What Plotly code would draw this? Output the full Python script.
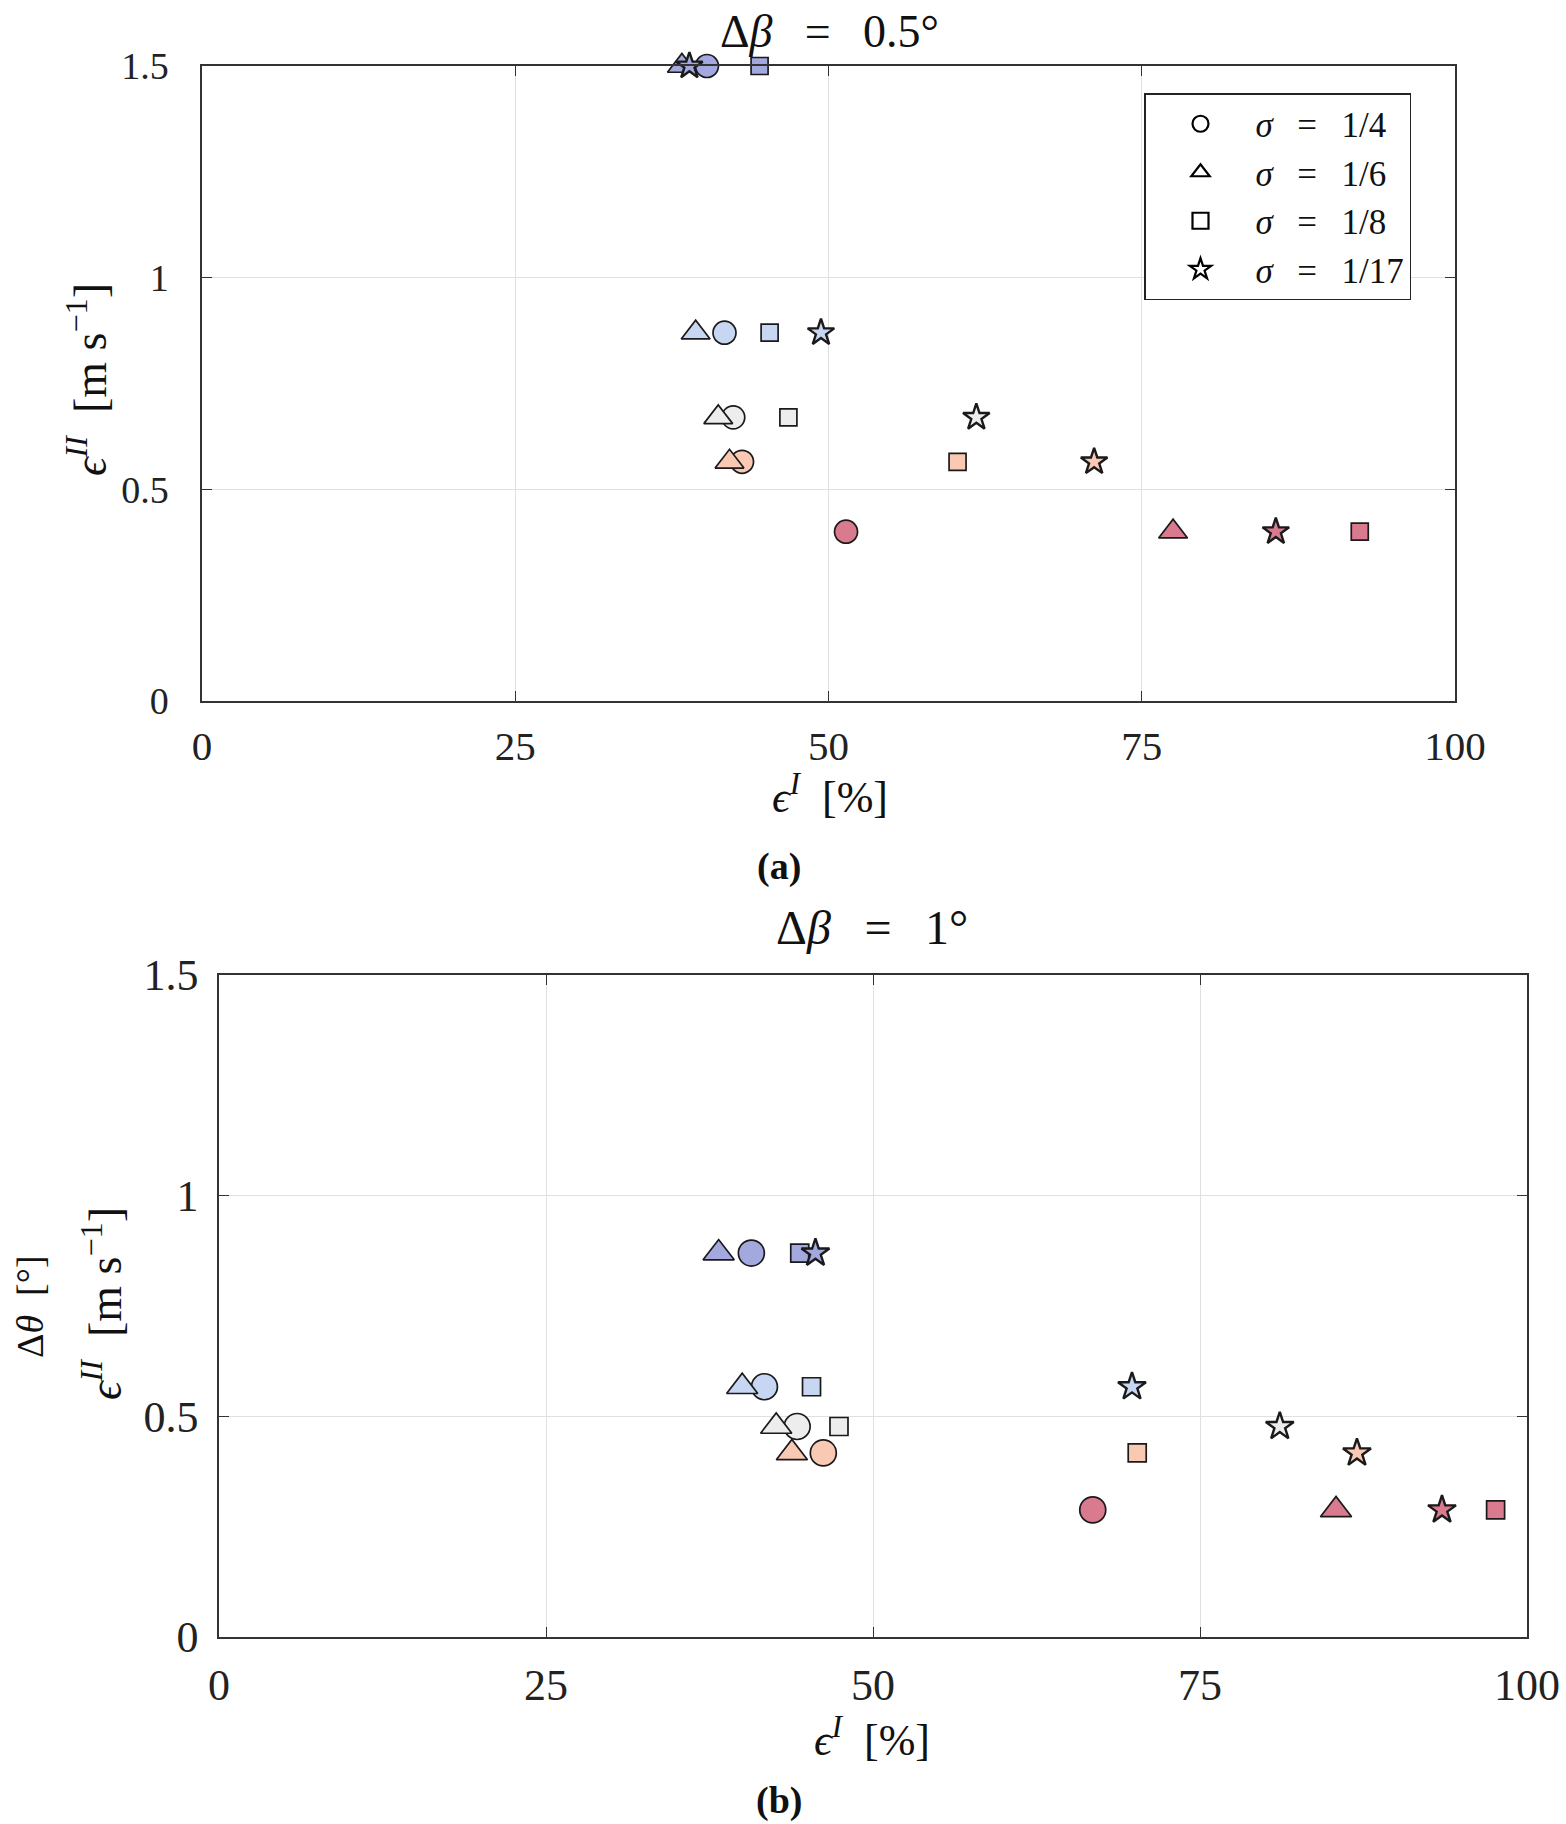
import plotly.graph_objects as go

# ---------------- data ----------------
sigma_labels = ["1/4", "1/6", "1/8", "1/17"]
sigma_symbols = ["circle", "triangle-up", "square", "star"]

# colours of the five levels (dark blue -> red)
level_colors = ["#a3a8de", "#c7d6f2", "#ededed", "#f9c9b4", "#d97a8e"]

# panel (a): delta beta = 0.5 deg
a_y = [1.5, 0.87, 0.67, 0.565, 0.40]
a_x_s4 = [40.3, 41.7, 42.4, 43.1, 51.4]
a_x_s6 = [38.3, 39.4, 41.2, 42.1, 77.5]
a_x_s8 = [44.5, 45.3, 46.8, 60.3, 92.4]
a_x_s17 = [38.9, 49.4, 61.8, 71.2, 85.7]

# panel (b): delta beta = 1 deg
b_y = [0.87, 0.567, 0.477, 0.417, 0.288]
b_x_s4 = [40.7, 41.7, 44.2, 46.2, 66.8]
b_x_s6 = [38.2, 40.0, 42.6, 43.8, 85.4]
b_x_s8 = [44.4, 45.3, 47.4, 70.2, 97.6]
b_x_s17 = [45.6, 69.8, 81.1, 87.0, 93.5]

x_ticks = [0, 25, 50, 75, 100]
y_ticks = [0, 0.5, 1, 1.5]
y_ticktext = ["0", "0.5", "1", "1.5"]

# ---------------- layout helpers ----------------
W, H = 1566, 1824
FONT = "Liberation Serif"
SP = "\u2002"
WSP = "\u2002\u2009"

def px(x):
    return x / W

def py(y):
    return 1 - y / H

fig = go.Figure()

a_sets = [a_x_s4, a_x_s6, a_x_s8, a_x_s17]
b_sets = [b_x_s4, b_x_s6, b_x_s8, b_x_s17]
sizes_a = [23, 25, 17, 20]
sizes_b = [26, 27, 18, 21]

for xs, sym, sz in zip(a_sets, sigma_symbols, sizes_a):
    fig.add_trace(go.Scatter(
        x=xs, y=a_y, mode="markers", xaxis="x", yaxis="y", showlegend=False,
        cliponaxis=False,
        marker=dict(symbol=sym, size=sz, color=level_colors,
                    line=dict(color="#1a1a1a", width=1.7 if sym != "star" else 2.4))))

for xs, sym, sz in zip(b_sets, sigma_symbols, sizes_b):
    fig.add_trace(go.Scatter(
        x=xs, y=b_y, mode="markers", xaxis="x2", yaxis="y2", showlegend=False,
        cliponaxis=False,
        marker=dict(symbol=sym, size=sz, color=level_colors,
                    line=dict(color="#1a1a1a", width=1.7 if sym != "star" else 2.4))))

# legend entries
for lab, sym in zip(sigma_labels, sigma_symbols):
    fig.add_trace(go.Scatter(
        x=[None], y=[None], mode="markers", xaxis="x", yaxis="y",
        name="<i>σ</i>" + WSP + "=" + WSP + lab,
        marker=dict(symbol=sym, size=16, color="white",
                    line=dict(color="black", width=2.2))))

def axis_common(fs):
    return dict(
        showgrid=True, gridcolor="#e0e0e0", gridwidth=1,
        showline=True, mirror="ticks", linecolor="#333333", linewidth=1.5,
        ticks="inside", ticklen=10, tickcolor="#333333", tickwidth=1.2,
        zeroline=False, automargin=False,
        tickfont=dict(family=FONT, size=fs, color="#222222"),
    )

# panel (a) box: x 202-1455, y 66-701 ; panel (b) box: x 219-1527, y 975-1637
fig.update_layout(
    width=W, height=H, autosize=False,
    margin=dict(l=0, r=0, t=0, b=0, autoexpand=False),
    paper_bgcolor="white", plot_bgcolor="white",
    xaxis=dict(domain=[px(202), px(1455)], range=[0, 100], tickvals=x_ticks,
               anchor="y", ticklabelstandoff=8, **axis_common(41)),
    yaxis=dict(domain=[py(701), py(66)], range=[0, 1.5], tickvals=y_ticks,
               ticktext=y_ticktext, anchor="x", ticklabelstandoff=24,
               **axis_common(38)),
    xaxis2=dict(domain=[px(219), px(1527)], range=[0, 100], tickvals=x_ticks,
                anchor="y2", ticklabelstandoff=8, **axis_common(44)),
    yaxis2=dict(domain=[py(1637), py(975)], range=[0, 1.5], tickvals=y_ticks,
                ticktext=y_ticktext, anchor="x2", ticklabelstandoff=10,
                **axis_common(44)),
    legend=dict(x=px(1144), y=py(93), xanchor="left", yanchor="top",
                bgcolor="white", bordercolor="#222222", borderwidth=1.5,
                font=dict(family=FONT, size=35, color="#111111"),
                itemwidth=100, tracegroupgap=0),
    showlegend=True,
)

def ann(text, x, y, size, angle=0, bold=False):
    fig.add_annotation(
        text=("<b>" + text + "</b>") if bold else text,
        x=px(x), y=py(y), xref="paper", yref="paper",
        xanchor="center", yanchor="middle", showarrow=False, textangle=angle,
        font=dict(family=FONT, size=size, color="#111111"))

ann("Δ<i>β</i>" + WSP + "=" + WSP + "0.5°", 830, 31, 46)
ann("Δ<i>β</i>" + WSP + "=" + WSP + "1°", 872, 927, 48)
ann("<i>ϵ</i><sup><i>I</i></sup>" + SP + "[%]", 830, 795, 44)
ann("<i>ϵ</i><sup><i>I</i></sup>" + SP + "[%]", 872, 1737, 44)
ann("<i>ϵ</i><sup><i>II</i></sup>" + SP + "[m s<sup>−1</sup>]", 87, 380, 46, angle=-90)
ann("<i>ϵ</i><sup><i>II</i></sup>" + SP + "[m s<sup>−1</sup>]", 102, 1303, 46, angle=-90)
ann("Δ<i>θ</i>" + SP + "[°]", 30, 1306, 38, angle=-90)
ann("(a)", 779, 867, 38, bold=True)
ann("(b)", 779, 1800, 38, bold=True)

fig.write_html("out.html", config={"displayModeBar": False},
               post_script="document.body.style.margin='0px';")
